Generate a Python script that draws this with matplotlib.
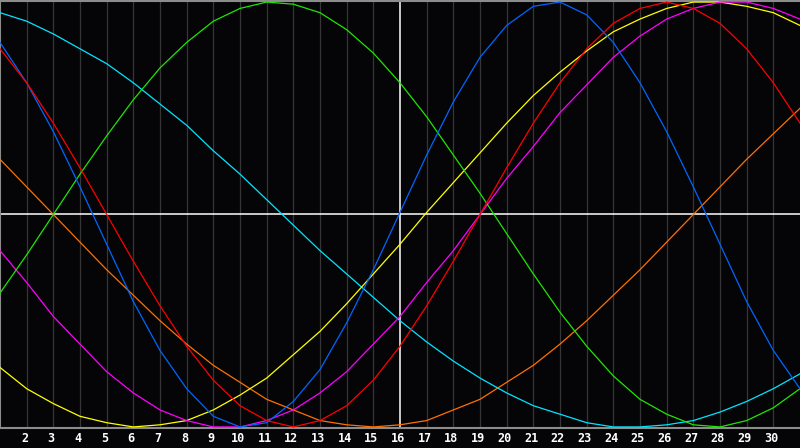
import matplotlib
matplotlib.use("Agg")
import matplotlib.pyplot as plt
from matplotlib.transforms import blended_transform_factory

# days of the month shown on the chart
days = list(range(1, 32))
tick_days = list(range(2, 31))

# curve values (one per day, -1 .. 1)
physical = [0.81, 0.62, 0.39, 0.13, -0.14, -0.41, -0.64, -0.82, -0.95, -1.00,
            -0.98, -0.88, -0.73, -0.51, -0.26, 0.01, 0.28, 0.53, 0.74, 0.89,
            0.98, 1.00, 0.94, 0.81, 0.62, 0.39, 0.13, -0.14, -0.41, -0.64, -0.82]
emotional = [0.78, 0.62, 0.43, 0.22, 0.00, -0.22, -0.43, -0.62, -0.78, -0.90,
             -0.97, -1.00, -0.97, -0.90, -0.78, -0.62, -0.43, -0.22, 0.00, 0.22,
             0.43, 0.62, 0.78, 0.90, 0.97, 1.00, 0.97, 0.90, 0.78, 0.62, 0.43]
intellectual = [-0.37, -0.19, 0.00, 0.19, 0.37, 0.54, 0.69, 0.81, 0.91, 0.97,
                1.00, 0.99, 0.95, 0.87, 0.76, 0.62, 0.46, 0.28, 0.10, -0.09,
                -0.28, -0.46, -0.62, -0.76, -0.87, -0.94, -0.99, -1.00, -0.97, -0.91, -0.82]
intuitive = [-0.17, -0.32, -0.48, -0.61, -0.74, -0.84, -0.92, -0.97, -1.00, -1.00,
             -0.97, -0.92, -0.84, -0.74, -0.61, -0.48, -0.32, -0.17, 0.00, 0.17,
             0.32, 0.48, 0.61, 0.74, 0.84, 0.92, 0.97, 1.00, 1.00, 0.97, 0.92]
aesthetic = [-0.72, -0.82, -0.89, -0.95, -0.98, -1.00, -0.99, -0.97, -0.92, -0.85,
             -0.77, -0.66, -0.55, -0.42, -0.28, -0.14, 0.01, 0.15, 0.29, 0.43,
             0.56, 0.67, 0.77, 0.86, 0.92, 0.97, 1.00, 1.00, 0.98, 0.95, 0.89]
awareness = [0.26, 0.13, 0.00, -0.13, -0.26, -0.38, -0.50, -0.61, -0.71, -0.79,
             -0.87, -0.92, -0.97, -0.99, -1.00, -0.99, -0.97, -0.92, -0.87, -0.79,
             -0.71, -0.61, -0.50, -0.38, -0.26, -0.13, 0.00, 0.13, 0.26, 0.38, 0.50]
spiritual = [0.95, 0.91, 0.85, 0.78, 0.71, 0.62, 0.52, 0.42, 0.30, 0.19,
             0.07, -0.05, -0.17, -0.28, -0.39, -0.50, -0.60, -0.69, -0.77, -0.84,
             -0.90, -0.94, -0.98, -1.00, -1.00, -0.99, -0.97, -0.93, -0.88, -0.82, -0.75]

series = [
    (awareness, "#ff7000"),
    (spiritual, "#00e5ff"),
    (aesthetic, "#ffff00"),
    (intuitive, "#ff00ff"),
    (intellectual, "#1ee600"),
    (physical, "#0066ff"),
    (emotional, "#ff0000"),
]

fig = plt.figure(figsize=(8, 4.48), dpi=100, facecolor="#050508")
ax = fig.add_axes([0.0, 20 / 448, 1.0, 427 / 448])
ax.set_facecolor("#050508")

# day grid
for d in tick_days:
    if d == 16:
        continue
    ax.axvline(d, color="#363636", lw=0.9, zorder=1)
ax.axvline(16, color="white", lw=1.1, zorder=2)
ax.axhline(0, color="white", lw=1.1, zorder=2)

for vals, col in series:
    ax.plot(days, vals, color=col, lw=0.9, zorder=3)

ax.set_xlim(1, 31)
ax.set_ylim(-1.005, 1.005)
ax.set_xticks([])
ax.set_yticks([])
ax.spines["right"].set_visible(False)
for side in ["top", "left", "bottom"]:
    ax.spines[side].set_color("#8c8c8c")
    ax.spines[side].set_linewidth(1.5)

# day numbers under the plot
trans = blended_transform_factory(ax.transData, fig.transFigure)
for d in tick_days:
    fig.text(d - 0.08, 10 / 448, str(d), transform=trans, color="white",
             fontsize=8.5, fontweight="bold", family="DejaVu Sans Mono",
             ha="center", va="center")

fig.savefig("out.png", dpi=100, facecolor=fig.get_facecolor())
